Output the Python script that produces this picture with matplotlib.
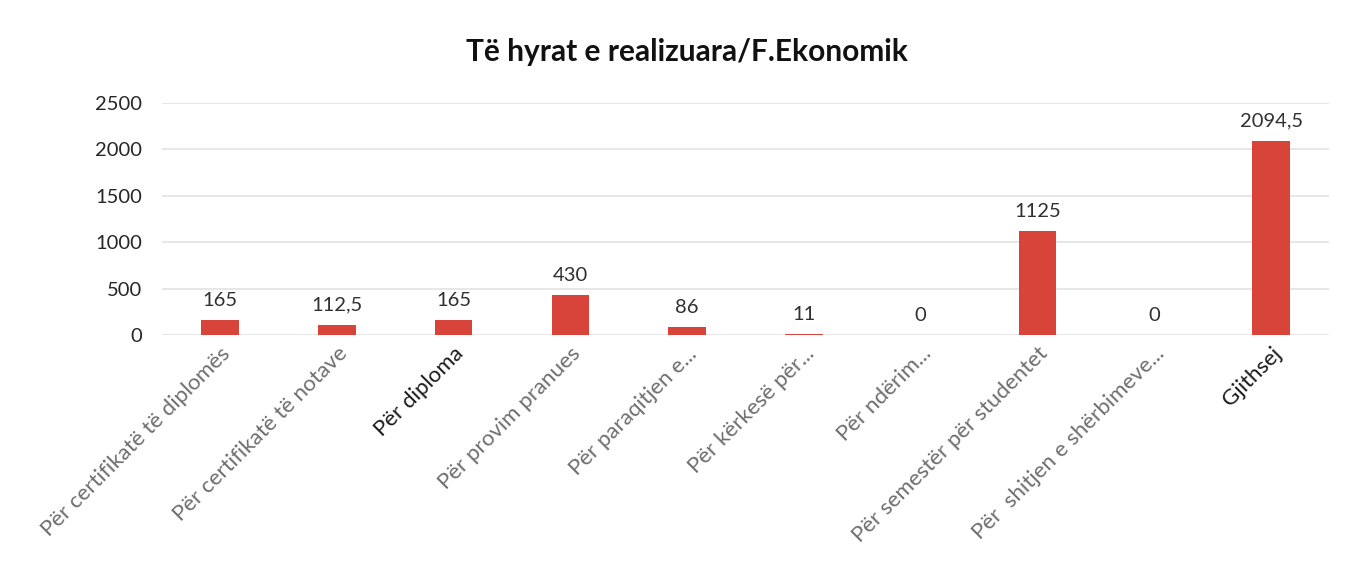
import matplotlib
matplotlib.use("Agg")
import matplotlib.pyplot as plt
import numpy as np

# Te hyrat e realizuara - Fakulteti Ekonomik
categories = [
    "Për certifikatë të diplomës",
    "Për certifikatë të notave",
    "Për diploma",
    "Për provim pranues",
    "Për paraqitjen e...",
    "Për kërkesë për...",
    "Për ndërim...",
    "Për semestër për studentet",
    "Për  shitjen e shërbimeve...",
    "Gjithsej",
]
values = [165, 112.5, 165, 430, 86, 11, 0, 1125, 0, 2094.5]
yticks = [0, 500, 1000, 1500, 2000, 2500]

plt.rcParams["font.family"] = ["Lato", "DejaVu Sans"]

fig = plt.figure(figsize=(13.47, 5.78), dpi=100)
ax = fig.add_axes([0.120, 0.420, 0.867, 0.402])

x = np.arange(len(categories))
bars = ax.bar(x, values, width=0.32, color="#D8433A", zorder=3)

for xi, v in zip(x, values):
    label = f"{v:g}".replace(".", ",")
    ax.annotate(label, xy=(xi, v), xytext=(0, 8), textcoords="offset points",
                ha="center", va="bottom", fontsize=14.5, color="#303030")

ax.set_xlim(-0.5, len(categories) - 0.5)
ax.set_ylim(0, 2500)
ax.set_yticks(yticks)
ax.set_yticklabels([str(t) for t in yticks], fontsize=14.5, color="#262626")
ax.yaxis.grid(True, color="#e3e3e3", linewidth=1.2, zorder=0)
ax.set_axisbelow(True)
for s in ax.spines.values():
    s.set_visible(False)
ax.tick_params(axis="both", length=0)
ax.tick_params(axis="y", pad=14)

ax.set_xticks(x)
ax.set_xticklabels(categories, rotation=45, ha="right", rotation_mode="anchor",
                   fontsize=16, color="#6e6e6e")
for lbl in ax.get_xticklabels():
    if lbl.get_text() in ("Për diploma", "Gjithsej"):
        lbl.set_color("#1a1a1a")
ax.tick_params(axis="x", pad=6)

fig.text(0.51, 0.91, "Të hyrat e realizuara/F.Ekonomik", ha="center", va="center",
         fontsize=21.5, fontweight="bold", color="#111111")

fig.savefig("out.png", dpi=100)
